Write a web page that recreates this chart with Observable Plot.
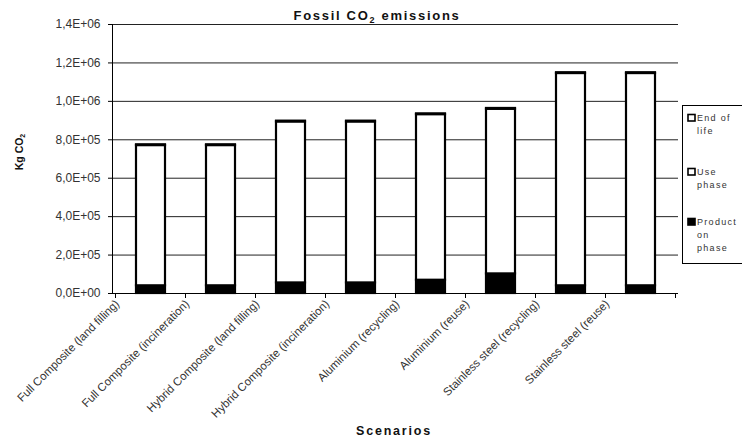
<!DOCTYPE html>
<html>
<head>
<meta charset="utf-8">
<script src="https://cdn.jsdelivr.net/npm/d3@7"></script>
<script src="https://cdn.jsdelivr.net/npm/@observablehq/plot@0.6"></script>
<style>
  html, body { margin: 0; padding: 0; background: #fff; }
  svg { font-family: "Liberation Sans", Arial, sans-serif; }
</style>
</head>
<body>
<div id="chart"></div>
<script>
// Scenarios compared
const scenarios = [
  "Full Composite (land filling)",
  "Full Composite (incineration)",
  "Hybrid Composite (land filling)",
  "Hybrid Composite (incineration)",
  "Aluminium (recycling)",
  "Aluminium (reuse)",
  "Stainless steel (recycling)",
  "Stainless steel (reuse)"
];

// Life-cycle phases, bottom to top of each stack
const phases = ["Production phase", "Use phase", "End of life"];

// Fossil CO2 emissions per phase (kg CO2)
const production = [40000, 40000, 55000, 55000, 69000, 102000, 40000, 40000];
const usePhase   = [730000, 730000, 838000, 838000, 862000, 857000, 1105000, 1105000];
const endOfLife  = [4000, 4000, 4000, 4000, 4000, 4000, 4000, 4000];

// Value axis
const yTicks = [0, 200000, 400000, 600000, 800000, 1000000, 1200000, 1400000];
const yTickLabels = ["0,0E+00", "2,0E+05", "4,0E+05", "6,0E+05", "8,0E+05", "1,0E+06", "1,2E+06", "1,4E+06"];

// Legend entries wrapped as in the legend box (top series first)
const legendEntries = [
  {phase: "End of life", lines: ["End of", "life"]},
  {phase: "Use phase", lines: ["Use", "phase"]},
  {phase: "Production phase", lines: ["Product", "on", "phase"]}
];

const phaseFill = {"Production phase": "#000", "Use phase": "#fff", "End of life": "#fff"};

const rows = [];
scenarios.forEach((s, i) => {
  rows.push({scenario: s, phase: phases[0], value: production[i]});
  rows.push({scenario: s, phase: phases[1], value: usePhase[i]});
  rows.push({scenario: s, phase: phases[2], value: endOfLife[i]});
});

const W = 742, H = 439;
const M = {left: 112, right: 64, top: 24, bottom: 146};

const chart = Plot.plot({
  width: W,
  height: H,
  marginLeft: M.left,
  marginRight: M.right,
  marginTop: M.top,
  marginBottom: M.bottom,
  style: {fontFamily: "Liberation Sans, Arial, sans-serif", background: "#fff", overflow: "visible"},
  x: {domain: scenarios, paddingInner: 0.59, paddingOuter: 0.295, label: null},
  y: {domain: [0, 1400000], label: null},
  marks: [
    Plot.gridY(yTicks, {stroke: "#222", strokeOpacity: 1, strokeWidth: 1}),
    Plot.barY(rows, Plot.stackY({order: phases}, {
      x: "scenario",
      y: "value",
      z: "phase",
      fill: d => phaseFill[d.phase],
      stroke: "#000",
      strokeWidth: 2.2
    })),
    Plot.axisY(yTicks, {
      tickSize: 4,
      tickPadding: 8,
      tickFormat: (d, i) => yTickLabels[i],
      fontSize: 12,
      fill: "#333",
      label: null,
      style: {letterSpacing: "0.8px"}
    }),
    Plot.axisX({tickSize: 0, label: null, text: null}),
    Plot.text(scenarios, {
      x: d => d,
      frameAnchor: "bottom",
      text: d => d,
      rotate: -45,
      textAnchor: "end",
      dx: -31,
      dy: 11,
      fontSize: 11.5,
      fill: "#333",
      style: {letterSpacing: "0.6px"}
    }),
    Plot.frame({anchor: "left", stroke: "#000"}),
    Plot.ruleY([0], {stroke: "#000"})
  ]
});

document.getElementById("chart").appendChild(chart);

const svg = d3.select(chart);
const xs = chart.scale("x");
const ys = chart.scale("y");
const y0 = ys.apply(0);

// Category separator ticks below the horizontal axis
const edges = scenarios.map(s => xs.apply(s) - (xs.step - xs.bandwidth) / 2);
edges.push(edges[edges.length - 1] + xs.step);
svg.append("g").selectAll("line").data(edges).join("line")
  .attr("x1", d => d).attr("x2", d => d)
  .attr("y1", y0).attr("y2", y0 + 5)
  .attr("stroke", "#000");

// Title
const title = svg.append("text")
  .attr("x", 377).attr("y", 20)
  .attr("text-anchor", "middle")
  .attr("font-size", 13)
  .attr("font-weight", "bold")
  .attr("letter-spacing", "1.7px")
  .attr("fill", "#111");
title.append("tspan").text("Fossil CO");
title.append("tspan").attr("font-size", 9).attr("dy", 3).text("2");
title.append("tspan").attr("dy", -3).text(" emissions");

// Vertical axis title
const yl = svg.append("text")
  .attr("transform", "translate(23,152) rotate(-90)")
  .attr("text-anchor", "middle")
  .attr("font-size", 10.5)
  .attr("font-weight", "bold")
  .attr("fill", "#111");
yl.append("tspan").text("Kg CO");
yl.append("tspan").attr("font-size", 7).attr("dy", 2).text("2");

// Horizontal axis title
svg.append("text")
  .attr("x", 394).attr("y", 435)
  .attr("text-anchor", "middle")
  .attr("font-size", 12.5)
  .attr("font-weight", "bold")
  .attr("letter-spacing", "1.8px")
  .attr("fill", "#111")
  .text("Scenarios");

// Legend box
const lg = svg.append("g").attr("text-anchor", "start");
lg.append("rect")
  .attr("x", 682.5).attr("y", 105.5)
  .attr("width", 80).attr("height", 158)
  .attr("fill", "#fff").attr("stroke", "#000");
const entryTop = [118, 172, 222];
legendEntries.forEach((e, i) => {
  lg.append("rect")
    .attr("x", 688).attr("y", entryTop[i] - 3.5)
    .attr("width", 7).attr("height", 6.5)
    .attr("fill", phaseFill[e.phase])
    .attr("stroke", "#000").attr("stroke-width", 1.6);
  e.lines.forEach((t, j) => {
    lg.append("text")
      .attr("x", 697).attr("y", entryTop[i] + 3 + j * 13)
      .attr("text-anchor", "start")
      .attr("font-size", 9)
      .attr("letter-spacing", "1.3px")
      .attr("fill", "#333")
      .text(t);
  });
});
</script>
</body>
</html>
